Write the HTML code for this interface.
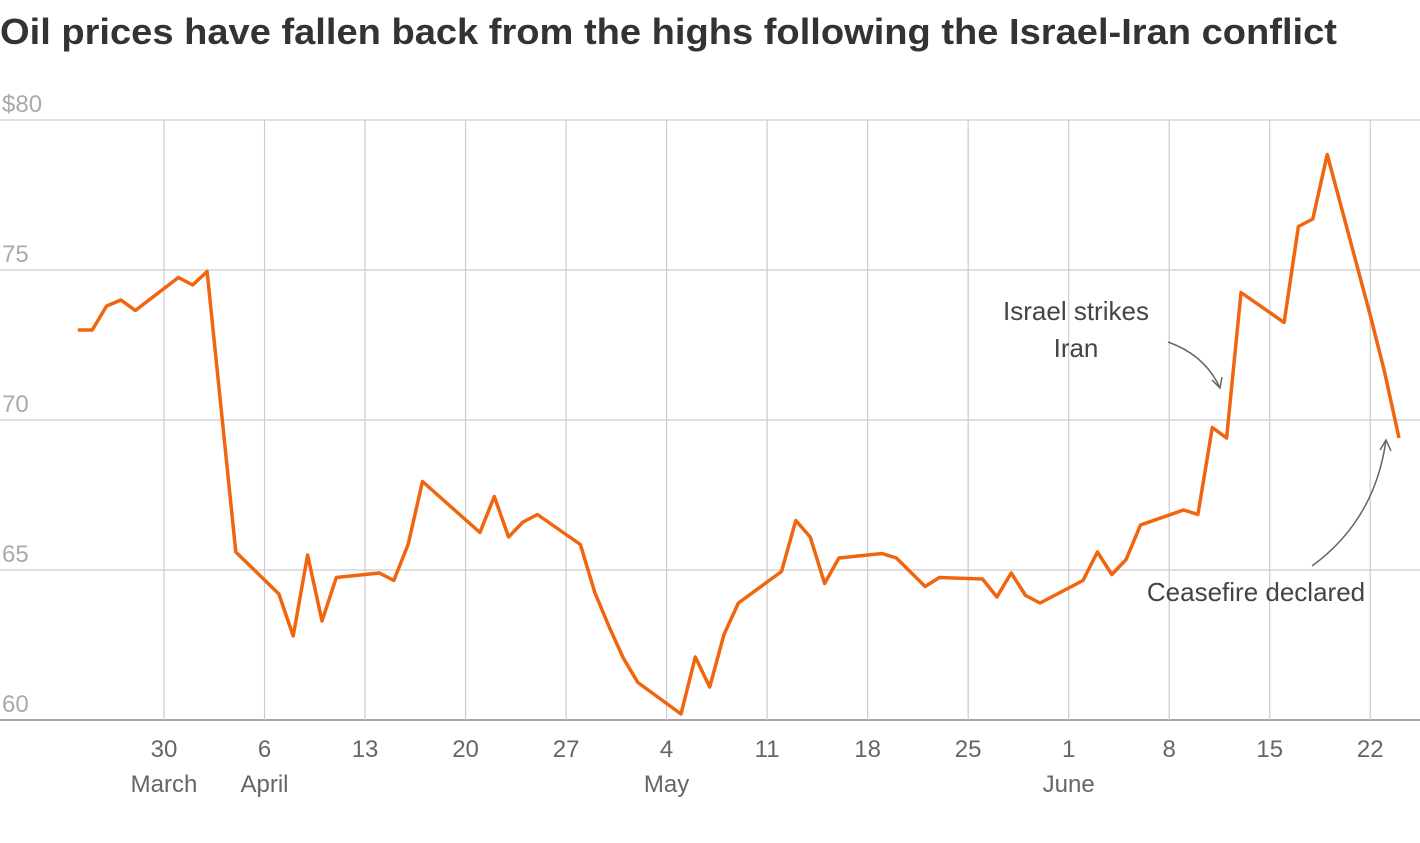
<!DOCTYPE html>
<html><head><meta charset="utf-8"><style>
body{margin:0;background:#fff;font-family:"Liberation Sans",sans-serif;}
svg text{font-family:"Liberation Sans",sans-serif;}
</style></head><body>
<svg id="c" width="1420" height="838">
<text x="0" y="44" font-size="36" font-weight="bold" fill="#333" textLength="1337" lengthAdjust="spacingAndGlyphs">Oil prices have fallen back from the highs following the Israel-Iran conflict</text>
<g id="grid"></g>
<g id="ann">
<text x="1076" y="320" font-size="26" fill="#444" text-anchor="middle"><tspan x="1076">Israel strikes</tspan><tspan x="1076" dy="37">Iran</tspan></text>
<path d="M1168,342 Q1205,355 1220,388" fill="none" stroke="#666" stroke-width="1.5"/>
<path d="M1212,380 L1220,388 L1222,377" fill="none" stroke="#666" stroke-width="1.5"/>
<text x="1256" y="601" font-size="26" fill="#444" text-anchor="middle">Ceasefire declared</text>
<path d="M1312,566 Q1375,520 1386,440" fill="none" stroke="#666" stroke-width="1.5"/>
<path d="M1380,450 L1386,440 L1391,451" fill="none" stroke="#666" stroke-width="1.5"/>
</g>
</svg>
<script>
const dayOffsets=[-6,-5,-4,-3,-2,1,2,3,5,8,9,10,11,12,15,16,17,18,22,23,24,25,26,29,30,31,32,33,36,37,38,39,40,43,44,45,46,47,50,51,53,54,57,58,59,60,61,64,65,66,67,68,71,72,73,74,75,78,79,80,81,84,85,86];
const prices=[73.0,73.0,73.8,74.0,73.65,74.75,74.5,74.95,65.6,64.2,62.8,65.5,63.3,64.75,64.9,64.65,65.85,67.95,66.25,67.45,66.1,66.6,66.85,65.85,64.25,63.1,62.05,61.25,60.2,62.1,61.1,62.85,63.9,64.95,66.65,66.1,64.55,65.4,65.55,65.4,64.45,64.75,64.7,64.1,64.9,64.15,63.9,64.65,65.6,64.85,65.35,66.5,67.0,66.85,69.75,69.4,74.25,73.25,76.45,76.7,78.85,73.5,71.6,69.4];
const yTicks=[60,65,70,75,80];
const yTickLabels=["60","65","70","75","$80"];
const xTickDays=[0,7,14,21,28,35,42,49,56,63,70,77,84];
const xTickLabels=["30","6","13","20","27","4","11","18","25","1","8","15","22"];
const monthDays=[0,7,35,63];
const monthLabels=["March","April","May","June"];
const X=d=>164+d*14.36;
const Y=v=>720-(v-60)*30;
const NS="http://www.w3.org/2000/svg";
const svg=document.getElementById('c'),g=document.getElementById('grid');
function mk(t,a,p){const e=document.createElementNS(NS,t);for(const k in a)e.setAttribute(k,a[k]);(p||g).appendChild(e);return e;}
yTicks.forEach((v,i)=>{
 const l=mk('line',{x1:0,x2:1420,y1:Y(v),y2:Y(v),stroke:v===60?'#888':'#ccc','stroke-width':v===60?1.5:1.2});
 
 
 const t=mk('text',{x:2,y:Y(v)-8,'font-size':24,fill:'#aaa'});t.textContent=yTickLabels[i];
 
 
});
xTickDays.forEach((d,i)=>{
 const l=mk('line',{x1:X(d),x2:X(d),y1:Y(80),y2:Y(60),stroke:'#ccc','stroke-width':1.2});
 
 
 const t=mk('text',{x:X(d),y:757,'font-size':24,fill:'#666','text-anchor':'middle'});t.textContent=xTickLabels[i];
 
 
});
monthDays.forEach((d,i)=>{
 const t=mk('text',{x:X(d),y:792,'font-size':24,fill:'#666','text-anchor':'middle'});t.textContent=monthLabels[i];
 
 
});
const pts=dayOffsets.map((d,i)=>X(d).toFixed(1)+','+Y(prices[i]).toFixed(1)).join(' ');
const line=mk('polyline',{points:pts,fill:'none',stroke:'#f0650e','stroke-width':3.5,'stroke-linejoin':'round'},svg);


</script>
</body></html>
